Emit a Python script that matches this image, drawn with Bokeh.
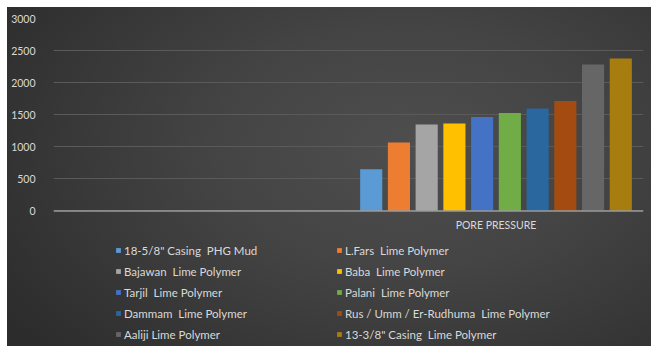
from bokeh.plotting import figure
from bokeh.models import (ColumnDataSource, FactorRange, Range1d, Legend, LegendItem,
                          FixedTicker, Spacer, Span)
from bokeh.layouts import column, row
from bokeh.transform import dodge
from bokeh.embed import file_html
from bokeh.resources import INLINE

categories = [" ", "PORE PRESSURE"]
series_names = [
    '18-5/8" Casing  PHG Mud',
    "L.Fars  Lime Polymer",
    "Bajawan  Lime Polymer",
    "Baba  Lime Polymer",
    "Tarjil  Lime Polymer",
    "Palani  Lime Polymer",
    "Dammam  Lime Polymer",
    "Rus / Umm / Er-Rudhuma  Lime Polymer",
    "Aaliji Lime Polymer",
    '13-3/8" Casing  Lime Polymer',
]
pore_pressure = [650, 1066, 1347, 1363, 1466, 1528, 1597, 1715, 2283, 2376]
colors = ["#5b9bd5", "#ed7d31", "#a5a5a5", "#ffc000", "#4472c4",
          "#70ad47", "#2a679f", "#a44b12", "#666666", "#a87d10"]
y_ticks = [0, 500, 1000, 1500, 2000, 2500, 3000]

FONT = "Lato"
TXT = "#d9d9d9"
FS = "10.5px"
LFS = "11.5px"

# plot frame extends below the value axis to hold the legend (px-based scaling)
value_px = 192.4          # pixels spanned by 0..3000
frame_px = 339 - 11       # frame height in pixels
y_max = y_ticks[-1]
y_min = y_max - y_max * frame_px / value_px

p = figure(x_range=FactorRange(*categories), y_range=Range1d(y_min, y_max),
           width=644, height=339, output_backend="svg", toolbar_location=None,
           min_border_left=46, min_border_right=8, min_border_top=11,
           min_border_bottom=0,
           background_fill_alpha=0, border_fill_alpha=0, outline_line_color=None,
           styles={"background": "radial-gradient(ellipse 75% 90% at 62% 42%, #4e4e4e 0%, #444444 40%, #2c2c2c 100%)"})

n = len(series_names)
step = 0.094
bar_w = 0.075
renderers = []
for i, (name, val, col) in enumerate(zip(series_names, pore_pressure, colors)):
    src = ColumnDataSource(dict(cat=["PORE PRESSURE"], val=[val]))
    off = (i - (n - 1) / 2) * step
    r = p.vbar(x=dodge("cat", off, range=p.x_range), top="val", bottom=0, width=bar_w,
               source=src, fill_color=col, line_color=None)
    renderers.append((name, r))

p.xgrid.grid_line_color = None
p.ygrid.ticker = FixedTicker(ticks=y_ticks)
p.ygrid.grid_line_color = "#5a5a5a"
p.ygrid.grid_line_width = 1

p.yaxis.ticker = FixedTicker(ticks=y_ticks)
p.yaxis.axis_line_color = None
p.yaxis.major_tick_line_color = None
p.yaxis.minor_tick_line_color = None
p.yaxis.major_label_standoff = 12
p.yaxis.major_label_text_font = FONT
p.yaxis.major_label_text_font_size = FS
p.yaxis.major_label_text_color = TXT

p.xaxis.visible = False

# category axis line at value 0 and the category label under it
p.add_layout(Span(location=0, dimension="width", line_color="#9a9a9a", line_width=1.5))
lab_src = ColumnDataSource(dict(cat=[categories[1]], y=[0], txt=[categories[1]]))
p.text(x="cat", y="y", text="txt", source=lab_src, y_offset=8,
       text_align="center", text_baseline="top",
       text_font={"value": FONT}, text_font_size=FS, text_color=TXT)

left_items = [LegendItem(label=nm, renderers=[r]) for k, (nm, r) in enumerate(renderers) if k % 2 == 0]
right_items = [LegendItem(label=nm, renderers=[r]) for k, (nm, r) in enumerate(renderers) if k % 2 == 1]

for items, xloc in ((left_items, 62), (right_items, 283)):
    lg = Legend(items=items, location=(xloc, 5), orientation="vertical",
                glyph_width=6, glyph_height=6, label_height=14, spacing=7,
                label_standoff=3, padding=0, margin=0,
                background_fill_alpha=0, border_line_color=None,
                label_text_font=FONT, label_text_font_size=LFS,
                label_text_color=TXT)
    p.add_layout(lg, "center")

layout = column(Spacer(height=7), row(Spacer(width=7), p))
open("out.html", "w").write(file_html(layout, INLINE))
